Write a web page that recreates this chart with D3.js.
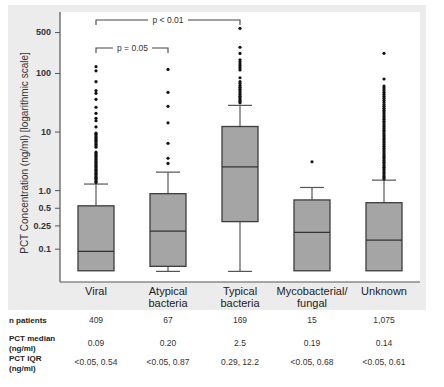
<!DOCTYPE html>
<html><head><meta charset="utf-8">
<script src="https://cdn.jsdelivr.net/npm/d3@7"></script>
<style>body{margin:0;background:#fff}svg{display:block}text{font-family:"Liberation Sans",Arial,sans-serif}</style>
</head><body><svg id="c" width="444" height="387"></svg>
<script>
const categories = ["Viral", "Atypical|bacteria", "Typical|bacteria", "Mycobacterial/|fungal", "Unknown"];
const whiskerLow = [0.042, 0.041, 0.041, 0.042, 0.042];
const q1 = [0.042, 0.050, 0.29, 0.042, 0.042];
const median = [0.09, 0.20, 2.5, 0.19, 0.14];
const q3 = [0.54, 0.87, 12.2, 0.68, 0.61];
const whiskerHigh = [1.27, 2.03, 28, 1.11, 1.48];
const outliers = [
  [1.35,1.42,1.5,1.58,1.66,1.75,1.85,1.95,2.05,2.15,2.27,2.4,2.53,2.67,2.82,2.98,3.15,3.33,3.52,3.72,3.95,4.2,4.45,
   5.4,5.7,6.0,6.35,6.7,7.1,7.5,7.95,8.4,8.9,9.4,12,15.3,16.8,20.5,26,35.5,45,50,71,109,128],
  [2.86,3.5,6.3,14.1,27,46.7,115],
  [31,33,35,37.5,40,43,46,49.5,53,57,61,66,71,83,113,122,132,143,155,168,216,275,580],
  [3.05],
  [1.55,1.65,1.75,1.88,2.0,2.15,2.3,2.45,2.6,2.78,2.98,3.2,3.42,3.66,3.92,4.2,4.5,4.82,5.2,5.6,6.0,6.45,6.9,7.4,
   7.95,8.5,9.1,9.8,10.5,11.3,12.1,13.0,14.0,15.0,16.2,17.4,18.7,20.1,21.6,23.2,25,27,29,31.5,34,37,40,43.5,
   47,51,55.5,60,79,217]
];
const yTicks = [0.1, 0.25, 0.5, 1, 10, 100, 500];
const yTickLabels = ["0.1", "0.25", "0.5", "1.0", "10", "100", "500"];
const nPatients = ["409", "67", "169", "15", "1,075"];
const pctMedian = ["0.09", "0.20", "2.5", "0.19", "0.14"];
const pctIQR = ["<0.05, 0.54", "<0.05, 0.87", "0.29, 12.2", "<0.05, 0.68", "<0.05, 0.61"];

const svg = d3.select("#c");
const L = 60, R = 420, T = 12, B = 282;
svg.append("rect").attr("x", 8).attr("y", 5).attr("width", 418).attr("height", 305).attr("fill", "#ececec");
svg.append("rect").attr("x", L).attr("y", T).attr("width", R - L).attr("height", B - T).attr("fill", "#fff");

const x = d3.scaleBand().domain(categories).range([L, R]);
const y = d3.scaleLog().domain([0.027, 1100]).range([B, T]);
const cx = i => x(categories[i]) + x.bandwidth() / 2;
const bw = 36, cw = 24;

// axes
const yAxis = d3.axisLeft(y).tickValues(yTicks).tickFormat((d, i) => yTickLabels[i]).tickSize(5).tickSizeOuter(0);
const gy = svg.append("g").attr("transform", `translate(${L},0)`).call(yAxis);
gy.select(".domain").remove();
gy.selectAll("line").attr("stroke", "#555");
gy.selectAll("text").attr("font-size", 9).attr("fill", "#333").attr("font-weight", "bold").attr("dx", "-1");
svg.append("line").attr("x1", L).attr("x2", L).attr("y1", T).attr("y2", B).attr("stroke", "#555").attr("stroke-width", 1.2);
svg.append("line").attr("x1", L).attr("x2", R).attr("y1", B).attr("y2", B).attr("stroke", "#555").attr("stroke-width", 1.2);

const xAxis = d3.axisBottom(x).tickSize(0).tickFormat(() => "");
const gx = svg.append("g").attr("transform", `translate(0,${B})`).call(xAxis);
gx.select(".domain").remove();
gx.selectAll(".tick").each(function(d) {
  const t = d3.select(this).append("text").attr("text-anchor", "middle").attr("font-size", 11).attr("fill", "#222");
  d.split("|").forEach((s, j) => t.append("tspan").attr("x", 0).attr("y", 13 + j * 12).text(s));
});

svg.append("text").attr("transform", `translate(28,${(T + B) / 2 + 6}) rotate(-90)`).attr("text-anchor", "middle")
  .attr("font-size", 10).attr("fill", "#333").text("PCT Concentration (ng/ml) [logarithmic scale]");

// boxes
categories.forEach((c, i) => {
  const g = svg.append("g");
  const X = cx(i);
  g.append("line").attr("x1", X).attr("x2", X).attr("y1", y(whiskerHigh[i])).attr("y2", y(q3[i])).attr("stroke", "#555").attr("stroke-width", 1.2);
  g.append("line").attr("x1", X).attr("x2", X).attr("y1", y(q1[i])).attr("y2", y(whiskerLow[i])).attr("stroke", "#555").attr("stroke-width", 1.2);
  g.append("line").attr("x1", X - cw / 2).attr("x2", X + cw / 2).attr("y1", y(whiskerHigh[i])).attr("y2", y(whiskerHigh[i])).attr("stroke", "#555").attr("stroke-width", 1.2);
  if (whiskerLow[i] < q1[i])
    g.append("line").attr("x1", X - cw / 2).attr("x2", X + cw / 2).attr("y1", y(whiskerLow[i])).attr("y2", y(whiskerLow[i])).attr("stroke", "#555").attr("stroke-width", 1.2);
  g.append("rect").attr("x", X - bw / 2).attr("width", bw).attr("y", y(q3[i])).attr("height", y(q1[i]) - y(q3[i]))
    .attr("fill", "#a5a5a5").attr("stroke", "#3c3c3c").attr("stroke-width", 1.3);
  g.append("line").attr("x1", X - bw / 2).attr("x2", X + bw / 2).attr("y1", y(median[i])).attr("y2", y(median[i])).attr("stroke", "#333").attr("stroke-width", 1.3);
  g.selectAll("circle").data(outliers[i]).join("circle").attr("cx", X).attr("cy", d => y(d)).attr("r", 1.6).attr("fill", "#111");
});

// significance brackets
function bracket(i1, i2, yy, label, tx0, tx1) {
  const x1 = cx(i1), x2 = cx(i2), tc = (tx0 + tx1) / 2;
  const g = svg.append("g").attr("stroke", "#444").attr("fill", "none").attr("stroke-width", 1.1);
  g.append("path").attr("d", `M${x1},${yy + 5}V${yy}H${tx0}M${tx1},${yy}H${x2}V${yy + 5}`);
  svg.append("text").attr("x", tc).attr("y", yy + 3).attr("text-anchor", "middle").attr("font-size", 8.5).attr("fill", "#333").text(label);
}
bracket(0, 2, 20, "p < 0.01", 148, 188);
bracket(0, 1, 48, "p = 0.05", 113, 152);

// table
const rowLab = (txt, yy) => svg.append("text").attr("x", 9).attr("y", yy).attr("font-size", 8).attr("font-weight", "bold").attr("fill", "#222").text(txt);
rowLab("n patients", 323);
rowLab("PCT median", 340.5); rowLab("(ng/ml)", 350.5);
rowLab("PCT IQR", 361); rowLab("(ng/ml)", 371);
const rowVals = (arr, yy) => arr.forEach((v, i) => svg.append("text").attr("x", cx(i)).attr("y", yy).attr("text-anchor", "middle").attr("font-size", 8.5).attr("fill", "#333").text(v));
rowVals(nPatients, 323);
rowVals(pctMedian, 346);
rowVals(pctIQR, 364.5);
</script></body></html>
